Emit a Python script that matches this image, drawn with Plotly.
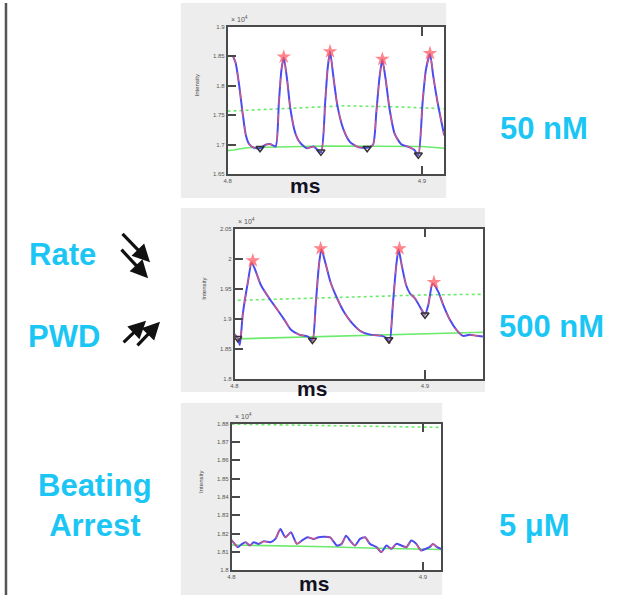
import plotly.graph_objects as go

W, H = 627, 598

# ---------------- data (intensity in units of 1e4, time axis as labelled) -------------
# Panel 1: 50 nM
p1_t = [4.8026, 4.8042, 4.8060, 4.8077, 4.8094, 4.8111, 4.8136, 4.8167, 4.8196, 4.8221,
        4.8247, 4.8264, 4.8277, 4.8289, 4.8306, 4.8323, 4.8349, 4.8374, 4.8408, 4.8442,
        4.8480, 4.8502, 4.8514, 4.8527, 4.8544, 4.8565, 4.8595, 4.8629, 4.8672, 4.8718,
        4.8748, 4.8765, 4.8782, 4.8796, 4.8813, 4.8833, 4.8859, 4.8893, 4.8935, 4.8961,
        4.8981, 4.9003, 4.9020, 4.9041, 4.9058, 4.9080, 4.9114]
p1_v = [1.852, 1.838, 1.800, 1.755, 1.716, 1.701, 1.695, 1.694, 1.700, 1.701,
        1.697, 1.772, 1.827, 1.848, 1.811, 1.761, 1.719, 1.703, 1.694, 1.697,
        1.687, 1.772, 1.827, 1.858, 1.816, 1.766, 1.727, 1.705, 1.696, 1.695,
        1.700, 1.755, 1.816, 1.844, 1.811, 1.761, 1.719, 1.701, 1.696, 1.691,
        1.682, 1.772, 1.827, 1.854, 1.816, 1.772, 1.716]
p1_peak_t = [4.8289, 4.8527, 4.8796, 4.9041]
p1_peak_v = [1.849, 1.858, 1.845, 1.855]
p1_trough_t = [4.8167, 4.8480, 4.8718, 4.8981]
p1_trough_v = [1.694, 1.688, 1.694, 1.683]
p1_base_t = [4.800, 4.803, 4.810, 4.850, 4.900, 4.9114]
p1_base_v = [1.690, 1.691, 1.695, 1.698, 1.697, 1.694]
p1_thr_t = [4.800, 4.830, 4.860, 4.890, 4.9114]
p1_thr_v = [1.757, 1.762, 1.766, 1.764, 1.761]

# Panel 2: 500 nM
p2_t = [4.8000, 4.8017, 4.8028, 4.8043, 4.8070, 4.8090, 4.8113, 4.8139, 4.8183, 4.8226,
        4.8261, 4.8296, 4.8339, 4.8383, 4.8409, 4.8426, 4.8443, 4.8456, 4.8478, 4.8504,
        4.8539, 4.8574, 4.8617, 4.8661, 4.8713, 4.8774, 4.8800, 4.8814, 4.8831, 4.8849,
        4.8861, 4.8878, 4.8901, 4.8922, 4.8948, 4.8974, 4.9000, 4.9017, 4.9040, 4.9070,
        4.9096, 4.9130, 4.9165, 4.9200, 4.9235, 4.9270, 4.9304]
p2_v = [1.875, 1.868, 1.857, 1.907, 1.961, 1.994, 1.978, 1.956, 1.934, 1.915,
        1.899, 1.882, 1.874, 1.871, 1.864, 1.923, 1.989, 2.016, 1.992, 1.961,
        1.934, 1.912, 1.893, 1.880, 1.874, 1.872, 1.868, 1.860, 1.923, 1.989,
        2.016, 1.989, 1.956, 1.942, 1.934, 1.920, 1.907, 1.923, 1.959, 1.945,
        1.923, 1.899, 1.882, 1.872, 1.874, 1.872, 1.871]
p2_peak_t = [4.8096, 4.8452, 4.8866, 4.9047]
p2_peak_v = [1.997, 2.017, 2.017, 1.961]
p2_trough_t = [4.8017, 4.8409, 4.8810, 4.9000]
p2_trough_v = [1.868, 1.865, 1.866, 1.907]
p2_base_t = [4.8017, 4.850, 4.900, 4.9304]
p2_base_v = [1.867, 1.871, 1.876, 1.878]
p2_thr_t = [4.8017, 4.850, 4.900, 4.9304]
p2_thr_v = [1.931, 1.935, 1.940, 1.941]

# Panel 3: 5 uM
p3_t = [4.8000, 4.8016, 4.8033, 4.8055, 4.8073, 4.8095, 4.8116, 4.8142, 4.8168, 4.8203,
        4.8229, 4.8255, 4.8281, 4.8310, 4.8341, 4.8367, 4.8397, 4.8428, 4.8454, 4.8480,
        4.8515, 4.8550, 4.8575, 4.8598, 4.8619, 4.8645, 4.8671, 4.8697, 4.8723, 4.8757,
        4.8783, 4.8809, 4.8835, 4.8861, 4.8887, 4.8913, 4.8939, 4.8965, 4.8990, 4.9014,
        4.9035, 4.9052, 4.9073, 4.9095]
p3_v = [1.8165, 1.8144, 1.8126, 1.8144, 1.8153, 1.8135, 1.8153, 1.8144, 1.8158, 1.8153,
        1.8171, 1.8225, 1.8180, 1.8207, 1.8144, 1.8162, 1.8180, 1.8171, 1.8180, 1.8183,
        1.8180, 1.8135, 1.8144, 1.8189, 1.8162, 1.8135, 1.8171, 1.8180, 1.8144, 1.8126,
        1.8099, 1.8135, 1.8117, 1.8144, 1.8135, 1.8126, 1.8162, 1.8144, 1.8108, 1.8117,
        1.8126, 1.8144, 1.8126, 1.8117]
p3_base_t = [4.800, 4.825, 4.850, 4.875, 4.9095]
p3_base_v = [1.8138, 1.8135, 1.8128, 1.8120, 1.8113]
p3_thr_t = [4.800, 4.840, 4.880, 4.9095]
p3_thr_v = [1.8798, 1.8792, 1.8785, 1.8780]

# axis ticks
x_ticks = [4.8, 4.9]
x_ticktext = ["4.8", "4.9"]
p1_yticks = [1.65, 1.7, 1.75, 1.8, 1.85, 1.9]
p1_yticktext = ["1.65", "1.7", "1.75", "1.8", "1.85", "1.9"]
p2_yticks = [1.8, 1.85, 1.9, 1.95, 2.0, 2.05]
p2_yticktext = ["1.8", "1.85", "1.9", "1.95", "2", "2.05"]
p3_yticks = [1.80, 1.81, 1.82, 1.83, 1.84, 1.85, 1.86, 1.87, 1.88]
p3_yticktext = ["1.8", "1.81", "1.82", "1.83", "1.84", "1.85", "1.86", "1.87", "1.88"]

conc_labels = ["50 nM", "500 nM", "5 μM"]
effect_labels = ["Rate", "PWD", "Beating<br>Arrest"]

# ---------------- layout helpers ----------------
def px(x):
    return x / W

def py(y):
    return 1 - y / H

CYAN = "#1CC6F4"
BLUE = "#4B4BF0"
RED = "#FF5A5A"
GREEN = "#6CEB6C"
AX = "#4a4a4a"

panels = [
    dict(area=(225, 443, 24, 173), box=(178, 445, 0, 197),
         t=p1_t, v=p1_v, pk=(p1_peak_t, p1_peak_v), tr=(p1_trough_t, p1_trough_v),
         base=(p1_base_t, p1_base_v), thr=(p1_thr_t, p1_thr_v),
         xr=[4.8, 4.9114], yr=[1.65, 1.9], yt=(p1_yticks, p1_yticktext), ms=(303, 184)),
    dict(area=(232, 482, 228, 380), box=(178, 484, 207, 393),
         t=p2_t, v=p2_v, pk=(p2_peak_t, p2_peak_v), tr=(p2_trough_t, p2_trough_v),
         base=(p2_base_t, p2_base_v), thr=(p2_thr_t, p2_thr_v),
         xr=[4.8, 4.9304], yr=[1.8, 2.05], yt=(p2_yticks, p2_yticktext), ms=(310, 389)),
    dict(area=(229, 440, 425, 573), box=(178, 441, 404, 598),
         t=p3_t, v=p3_v, pk=None, tr=None,
         base=(p3_base_t, p3_base_v), thr=(p3_thr_t, p3_thr_v),
         xr=[4.8, 4.9095], yr=[1.8, 1.88], yt=(p3_yticks, p3_yticktext), ms=(312, 586)),
]

fig = go.Figure()
shapes = []
annotations = []


def label(text, x, y, size, color, angle=0, xanchor="center", yanchor="middle"):
    annotations.append(dict(text=text, xref="paper", yref="paper", x=px(x), y=py(y),
                            xanchor=xanchor, yanchor=yanchor, textangle=angle, showarrow=False,
                            font=dict(family="Liberation Sans", size=size, color=color)))


for i, p in enumerate(panels, start=1):
    xa = "x" if i == 1 else f"x{i}"
    ya = "y" if i == 1 else f"y{i}"
    l, r, t, b = p["area"]
    bl, br, bt, bb = p["box"]
    shapes.append(dict(type="rect", xref="paper", yref="paper", x0=px(bl), x1=px(br),
                       y0=py(bb), y1=py(bt), fillcolor="#EDEDED", line=dict(width=0), layer="below"))
    shapes.append(dict(type="rect", xref="paper", yref="paper", x0=px(l), x1=px(r),
                       y0=py(b), y1=py(t), fillcolor="#FFFFFF", line=dict(width=0), layer="below"))

    fig.add_trace(go.Scatter(x=p["base"][0], y=p["base"][1], mode="lines",
                             line=dict(color=GREEN, width=1.6), xaxis=xa, yaxis=ya, showlegend=False))
    fig.add_trace(go.Scatter(x=p["thr"][0], y=p["thr"][1], mode="lines",
                             line=dict(color=GREEN, width=1.6, dash="dot"), xaxis=xa, yaxis=ya, showlegend=False))
    fig.add_trace(go.Scatter(x=p["t"], y=p["v"], mode="lines", line_shape="spline",
                             line=dict(color=BLUE, width=2, smoothing=0.6), xaxis=xa, yaxis=ya, showlegend=False))
    fig.add_trace(go.Scatter(x=p["t"], y=p["v"], mode="lines", line_shape="spline",
                             line=dict(color=RED, width=1.2, dash="dash", smoothing=0.6), opacity=0.8,
                             xaxis=xa, yaxis=ya, showlegend=False))
    if p["tr"]:
        fig.add_trace(go.Scatter(x=p["tr"][0], y=p["tr"][1], mode="markers",
                                 marker=dict(symbol="triangle-down-open", size=7, color="#333333",
                                             line=dict(width=1.5)),
                                 xaxis=xa, yaxis=ya, showlegend=False))
    if p["pk"]:
        fig.add_trace(go.Scatter(x=p["pk"][0], y=p["pk"][1], mode="markers",
                                 marker=dict(symbol="star", size=11, color="rgba(255,80,90,0.7)",
                                             line=dict(width=0)),
                                 xaxis=xa, yaxis=ya, showlegend=False))

    axis_common = dict(showgrid=False, zeroline=False, showline=True, linecolor=AX, linewidth=1.5,
                       ticks="inside", ticklen=9, tickcolor=AX, tickwidth=1.5,
                       tickfont=dict(family="Liberation Sans", size=6, color="#555555"))
    fig.layout[f"xaxis{'' if i == 1 else i}"] = dict(
        domain=[px(l), px(r)], anchor=ya, range=p["xr"], tickvals=x_ticks, ticktext=x_ticktext,
        mirror="ticks", **axis_common)
    fig.layout[f"yaxis{'' if i == 1 else i}"] = dict(
        domain=[py(b), py(t)], anchor=xa, range=p["yr"], tickvals=p["yt"][0], ticktext=p["yt"][1],
        mirror=True, **axis_common)

    label("× 10<sup>4</sup>", l + 1, t - 2, 7, "#555555", xanchor="left", yanchor="bottom")
    label("Intensity", l - 31, (t + b) / 2 - 15, 6, "#444444", angle=-90)
    label("<b>ms</b>", p["ms"][0], p["ms"][1], 21, "#111122")

# concentration labels
for (xx, yy), txt in zip([(543, 127), (551, 327), (534, 528)], conc_labels):
    label(f"<b>{txt}</b>", xx, yy, 31, CYAN)

# effect labels
for (xx, yy), txt in zip([(59, 254), (60, 337), (92, 508)], effect_labels):
    label(f"<b>{txt}</b>", xx, yy, 31, CYAN)

# arrows (tail -> head in pixels)
for (x0, y0, x1, y1) in [(118, 232, 147, 262), (117, 248, 145, 278),
                         (119, 344, 143, 321), (133, 347, 157, 322)]:
    annotations.append(dict(text="", xref="paper", yref="paper", x=px(x1), y=py(y1),
                            ax=x0 - x1, ay=y0 - y1, axref="pixel", ayref="pixel",
                            showarrow=True, arrowhead=2, arrowsize=1.1, arrowwidth=3.2,
                            arrowcolor="#111111"))

# left border line
shapes.append(dict(type="line", xref="paper", yref="paper", x0=px(2), x1=px(2), y0=0, y1=1,
                   line=dict(color="#555555", width=2.5)))

fig.update_layout(width=W, height=H, margin=dict(l=0, r=0, t=0, b=0),
                  paper_bgcolor="#FFFFFF", plot_bgcolor="#FFFFFF",
                  shapes=shapes, annotations=annotations, showlegend=False)

fig.write_html("out.html")
